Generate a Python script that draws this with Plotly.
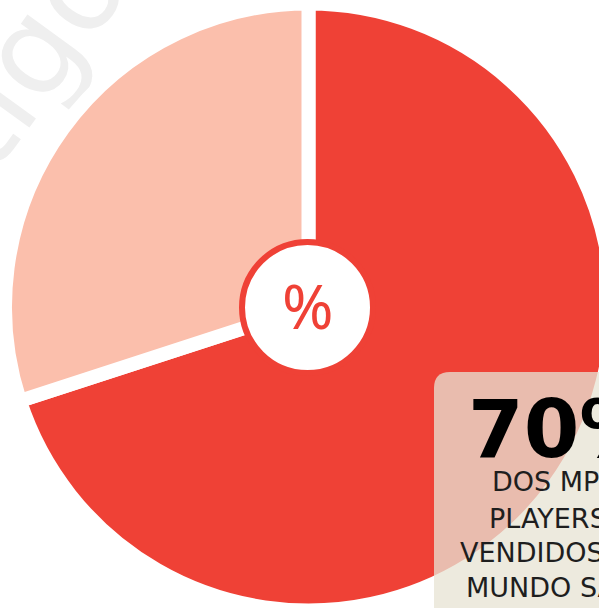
import plotly.graph_objects as go

# ---- data ----
categories = ["iPod", "Outros"]
shares = [70, 30]
slice_colors = ["#EF4136", "#FBBFAC"]
center_label = "%"
headline = "70%"
caption_lines = ["DOS MP3", "PLAYERS", "VENDIDOS NO", "MUNDO SÃO"]
watermark = "artigo"

W, H = 630, 630
RED = "#EF4136"


def px(x):
    return x / W


def py(y):
    return 1 - y / H


# pie geometry (pixels)
cx, cy, rg = 308.5, 307.0, 303.5

fig = go.Figure(
    go.Pie(
        labels=categories,
        values=shares,
        sort=False,
        direction="clockwise",
        rotation=0,
        marker=dict(colors=slice_colors, line=dict(color="white", width=14)),
        textinfo="none",
        hoverinfo="skip",
        showlegend=False,
        domain=dict(x=[px(cx - rg), px(cx + rg)], y=[py(cy + rg), py(cy - rg)]),
    )
)

shapes = []
# watermark (below pie)
shapes.append(
    dict(
        type="line", xref="paper", yref="paper", layer="below",
        x0=px(-60), y0=py(290), x1=px(150), y1=py(0),
        line=dict(width=0, color="rgba(0,0,0,0)"),
        label=dict(text=watermark, font=dict(family="DejaVu Sans", size=124, color="#EFEFEF"),
                   textposition="middle"),
    )
)
# center circle
r_in = 65.5
shapes.append(
    dict(
        type="circle", xref="paper", yref="paper",
        x0=px(307.5 - r_in), x1=px(307.5 + r_in), y0=py(307.5 + r_in), y1=py(307.5 - r_in),
        fillcolor="white", line=dict(color=RED, width=6),
    )
)
# info box
bx, by, br, far = 434, 372, 16, 700
path = (
    f"M {px(bx)},{py(far)} L {px(bx)},{py(by + br)} "
    f"Q {px(bx)},{py(by)} {px(bx + br)},{py(by)} "
    f"L {px(far)},{py(by)} L {px(far)},{py(far)} Z"
)
shapes.append(
    dict(type="path", xref="paper", yref="paper", path=path,
         fillcolor="rgba(231,227,212,0.76)", line=dict(width=0))
)

annotations = [
    dict(text=center_label, x=px(308), y=py(305), xref="paper", yref="paper",
         showarrow=False, xanchor="center", yanchor="middle",
         font=dict(family="Noto Sans", size=62, color=RED)),
    dict(text=headline, x=px(466), y=py(429), xref="paper", yref="paper",
         showarrow=False, xanchor="left", yanchor="middle",
         font=dict(family="DejaVu Sans", size=80, color="#000000", weight="bold")),
]
line_lefts = [490, 487, 458, 464]
line_mids = [482, 518, 552, 587]
for t, lx, ly in zip(caption_lines, line_lefts, line_mids):
    annotations.append(
        dict(text=t, x=px(lx), y=py(ly), xref="paper", yref="paper",
             showarrow=False, xanchor="left", yanchor="middle",
             font=dict(family="DejaVu Sans", size=27, color="#1E1E1E"))
    )

fig.update_layout(
    width=W, height=H,
    margin=dict(l=0, r=0, t=0, b=0),
    paper_bgcolor="white", plot_bgcolor="white",
    shapes=shapes, annotations=annotations,
)

fig.write_html(
    "out.html",
    post_script="document.documentElement.style.overflow='hidden';document.body.style.overflow='hidden';document.body.style.margin='0';",
)
